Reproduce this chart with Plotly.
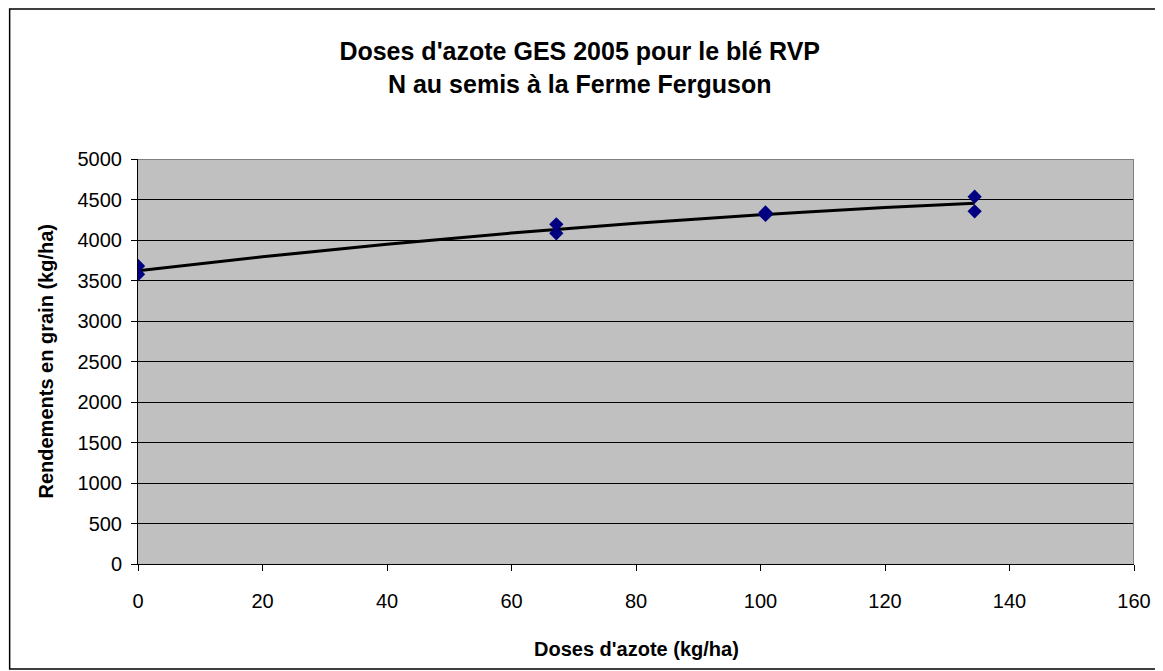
import plotly.graph_objects as go

# Observed data points (N dose kg/ha, grain yield kg/ha)
doses = [0, 0, 67.2, 67.2, 100.8, 100.8, 134.4, 134.4]
yields = [3679, 3577, 4194, 4083, 4340, 4310, 4535, 4354]

# Trendline
trend_x = [0, 20, 40, 60, 80, 100, 120, 134.4]
trend_y = [3620, 3792, 3948, 4086, 4208, 4312, 4400, 4453]

x_ticks = [0, 20, 40, 60, 80, 100, 120, 140, 160]
y_ticks = [0, 500, 1000, 1500, 2000, 2500, 3000, 3500, 4000, 4500, 5000]

title_text = "Doses d'azote GES 2005 pour le blé RVP<br>N au semis à la Ferme Ferguson"
x_title = "Doses d'azote (kg/ha)"
y_title = "Rendements en grain (kg/ha)"

font_family = "Liberation Sans, Arial, sans-serif"

W, H = 1155, 663
L, R, T, B = 130, 24, 151, 107
PW, PH = W - L - R, H - T - B

fig = go.Figure()
fig.add_trace(go.Scatter(
    x=trend_x, y=trend_y, mode="lines",
    line=dict(color="black", width=3, shape="spline"),
    showlegend=False, hoverinfo="skip"))
fig.add_trace(go.Scatter(
    x=doses, y=yields, mode="markers",
    marker=dict(symbol="diamond", color="#000080", size=11),
    showlegend=False))

fig.update_layout(
    width=W, height=H,
    margin=dict(l=L, r=R, t=T, b=B),
    paper_bgcolor="white",
    plot_bgcolor="#C0C0C0",
    font=dict(family=font_family, color="black", size=20),
    title=dict(text="<b>" + title_text + "</b>", x=0.495, xanchor="center",
               yref="container", y=1 - 52 / H, yanchor="top",
               font=dict(size=25, family=font_family, color="black")),
    xaxis=dict(range=[0, 160], tickvals=x_ticks, showgrid=False,
               zeroline=False, showline=True, linecolor="black", linewidth=1,
               ticks="outside", ticklen=6, tickcolor="black",
               ticklabelstandoff=13,
               tickfont=dict(size=20)),
    yaxis=dict(range=[0, 5000], tickvals=y_ticks, showgrid=True,
               gridcolor="black", gridwidth=1, zeroline=False,
               showline=True, linecolor="black", linewidth=1,
               ticks="outside", ticklen=6, tickcolor="black",
               ticklabelstandoff=5,
               tickfont=dict(size=20)),
    annotations=[
        dict(text="<b>" + x_title + "</b>", xref="paper", yref="paper",
             x=0.5, y=0, xanchor="center", yanchor="middle",
             yshift=-85, showarrow=False, font=dict(size=20)),
        dict(text="<b>" + y_title + "</b>", xref="paper", yref="paper",
             x=0, y=0.5, xanchor="center", yanchor="middle", textangle=-90,
             xshift=-93, showarrow=False, font=dict(size=20)),
    ],
    shapes=[
        dict(type="line", xref="x", yref="y", x0=0, x1=160, y0=5000, y1=5000,
             line=dict(color="#808080", width=2), layer="above"),
        dict(type="line", xref="x", yref="y", x0=160, x1=160, y0=0, y1=5000,
             line=dict(color="#808080", width=2), layer="above"),
        dict(type="rect", xref="paper", yref="paper",
             x0=(-L + 1) / PW, x1=(PW + R - 2) / PW,
             y0=(-B + 2) / PH, y1=(PH + T - 1) / PH,
             line=dict(color="black", width=1.5), layer="below"),
    ],
)

fig.write_html("out.html")
